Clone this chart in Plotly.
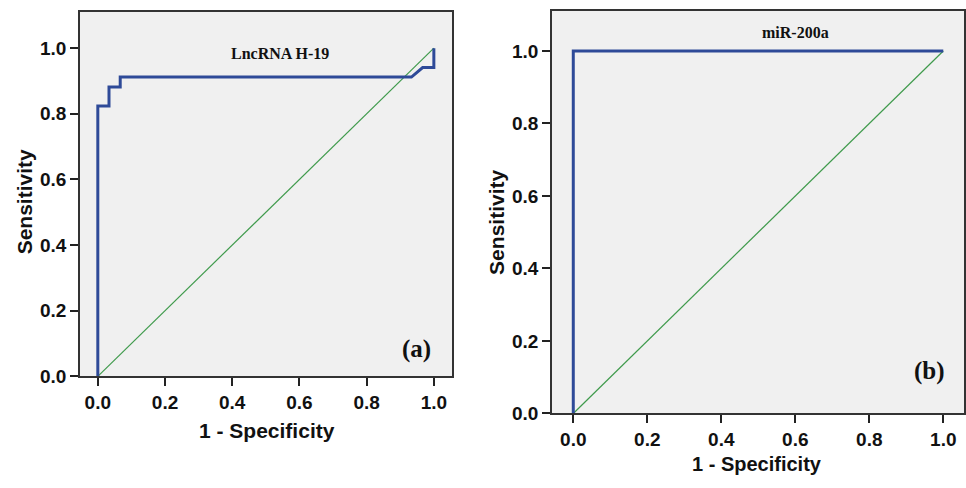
import plotly.graph_objects as go

# ROC curve for LncRNA H-19 (step points: 1 - specificity, sensitivity)
h19_fpr = [0.0, 0.0, 0.0333, 0.0333, 0.0667, 0.0667, 0.9333, 0.9667, 1.0, 1.0]
h19_tpr = [0.0, 0.824, 0.824, 0.882, 0.882, 0.912, 0.912, 0.941, 0.941, 1.0]

# ROC curve for miR-200a
mir_fpr = [0.0, 0.0, 1.0]
mir_tpr = [0.0, 1.0, 1.0]

# Reference (chance) line
ref_x = [0.0, 1.0]
ref_y = [0.0, 1.0]

tick_vals = [0.0, 0.2, 0.4, 0.6, 0.8, 1.0]
tick_text = ["0.0", "0.2", "0.4", "0.6", "0.8", "1.0"]

W, H = 966, 488
BLUE = "#2e4a98"
GREEN = "#3f9a4c"
SANS = "Liberation Sans, Arial, sans-serif"
SERIF = "Liberation Serif, Times New Roman, serif"

fig = go.Figure()

fig.add_trace(go.Scatter(x=ref_x, y=ref_y, mode="lines",
                         line=dict(color=GREEN, width=1.2),
                         xaxis="x", yaxis="y", showlegend=False))
fig.add_trace(go.Scatter(x=h19_fpr, y=h19_tpr, mode="lines",
                         line=dict(color=BLUE, width=3),
                         xaxis="x", yaxis="y", showlegend=False))
fig.add_trace(go.Scatter(x=ref_x, y=ref_y, mode="lines",
                         line=dict(color=GREEN, width=1.2),
                         xaxis="x2", yaxis="y2", showlegend=False))
fig.add_trace(go.Scatter(x=mir_fpr, y=mir_tpr, mode="lines",
                         line=dict(color=BLUE, width=3),
                         xaxis="x2", yaxis="y2", showlegend=False))


def px_x(p):
    return p / W


def px_y(p):
    return 1 - p / H


axis_common = dict(
    tickvals=tick_vals, ticktext=tick_text,
    ticks="outside", ticklen=8, tickwidth=1.5, tickcolor="#222",
    showline=True, linecolor="#333", linewidth=1.5, mirror=True,
    showgrid=False, zeroline=False,
    tickfont=dict(family=SANS, size=19, color="#111", weight="bold"),
)

fig.update_layout(
    width=W, height=H,
    margin=dict(l=0, r=0, t=0, b=0),
    paper_bgcolor="white",
    plot_bgcolor="#f0f0f0",
    xaxis=dict(domain=[px_x(80), px_x(452)], range=[-0.053, 1.054],
               anchor="y", **axis_common),
    yaxis=dict(domain=[px_y(385), px_y(12)], range=[0, 1.111],
               anchor="x", **axis_common),
    xaxis2=dict(domain=[px_x(552), px_x(964)], range=[-0.0575, 1.056],
                anchor="y2", **axis_common),
    yaxis2=dict(domain=[px_y(423), px_y(11)], range=[0, 1.111],
                anchor="x2", **axis_common),
)

title_font = dict(family=SANS, size=21, color="#111", weight="bold")
fig.add_annotation(text="Sensitivity", xref="paper", yref="paper",
                   x=px_x(24), y=px_y(207), textangle=-90, showarrow=False,
                   font=title_font, xanchor="center", yanchor="middle")
fig.add_annotation(text="1 - Specificity", xref="paper", yref="paper",
                   x=px_x(267), y=px_y(440), showarrow=False,
                   font=title_font, xanchor="center", yanchor="middle")
fig.add_annotation(text="Sensitivity", xref="paper", yref="paper",
                   x=px_x(497), y=px_y(227), textangle=-90, showarrow=False,
                   font=title_font, xanchor="center", yanchor="middle")
fig.add_annotation(text="1 - Specificity", xref="paper", yref="paper",
                   x=px_x(757), y=px_y(475), showarrow=False,
                   font=dict(family=SANS, size=20, color="#111", weight="bold"),
                   xanchor="center", yanchor="middle")

label_font = dict(family=SERIF, size=16, color="#111", weight="bold")
fig.add_annotation(text="LncRNA H-19", xref="x", yref="y", x=0.543, y=0.983,
                   showarrow=False, font=label_font)
fig.add_annotation(text="miR-200a", xref="x2", yref="y2", x=0.6, y=1.051,
                   showarrow=False, font=label_font)

panel_font = dict(family=SERIF, size=25, color="#111", weight="bold")
fig.add_annotation(text="(a)", xref="x", yref="y", x=0.947, y=0.084,
                   showarrow=False, font=panel_font)
fig.add_annotation(text="(b)", xref="x2", yref="y2", x=0.962, y=0.117,
                   showarrow=False, font=panel_font)

fig.write_html("out.html")
